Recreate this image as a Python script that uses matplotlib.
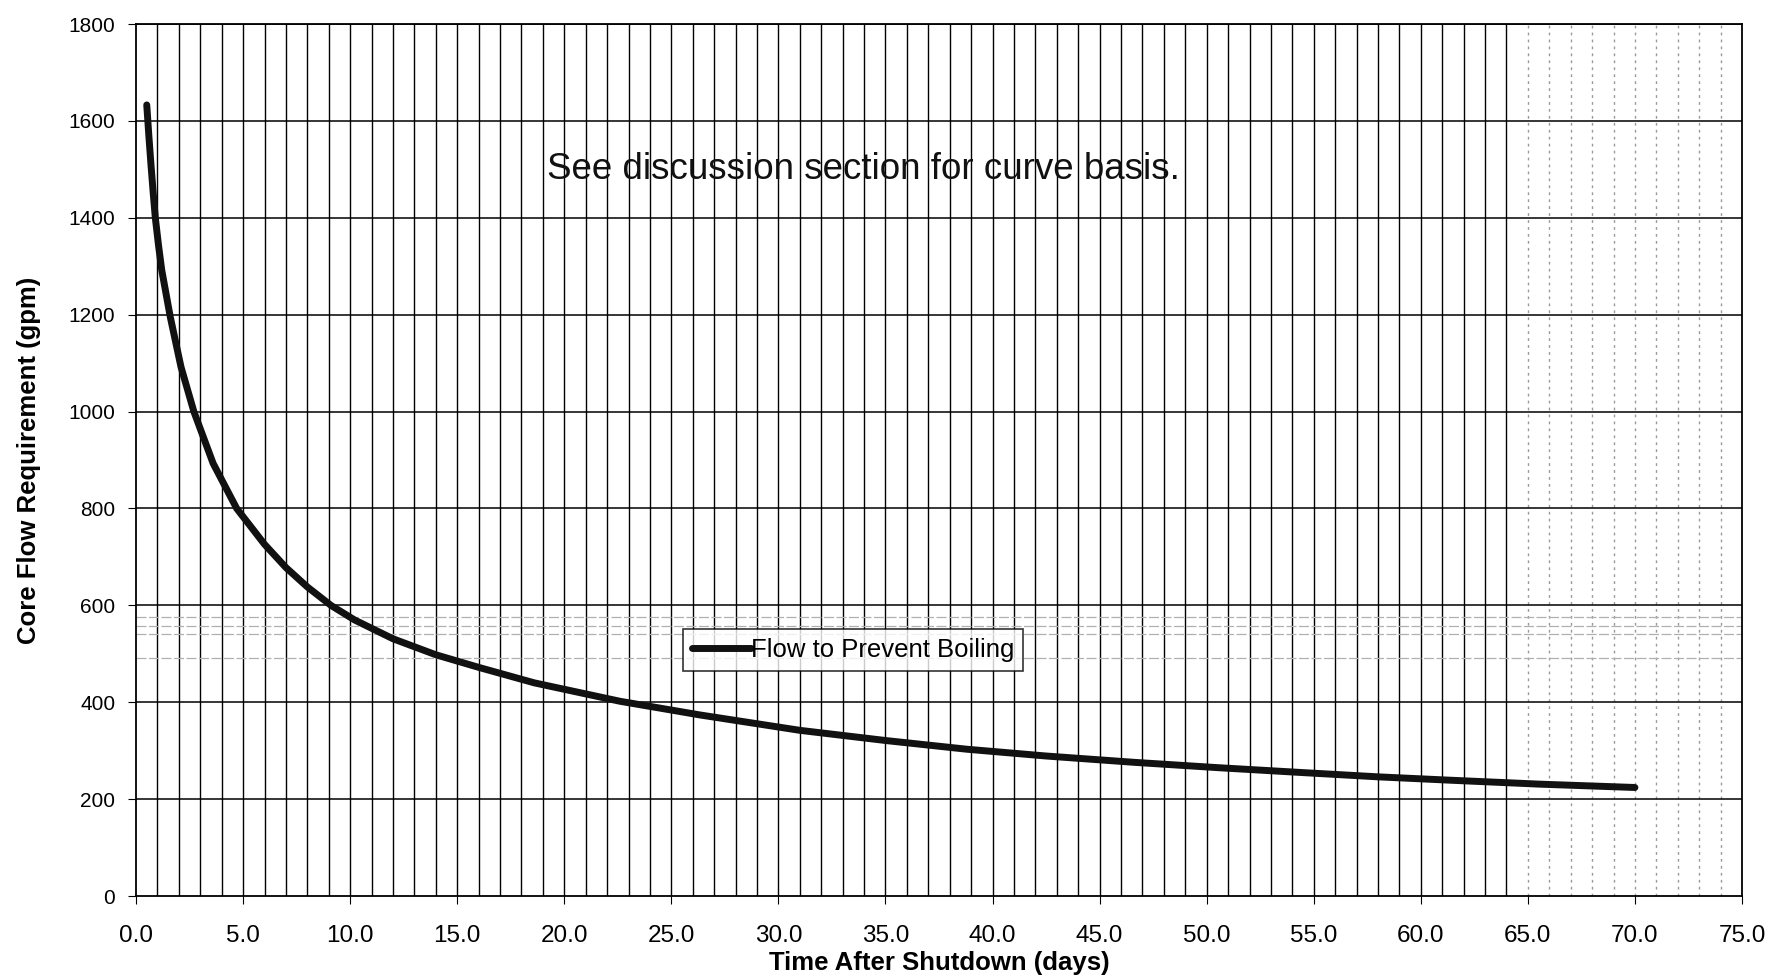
import matplotlib.pyplot as plt
import numpy as np

plt.rcParams['font.family'] = ['Liberation Sans', 'DejaVu Sans']

# days after shutdown vs. required core flow (gpm)
days = [0.5, 0.6, 0.7, 0.8, 0.9, 1.05, 1.2, 1.6, 2.1, 2.7, 3.6, 4.7, 6.0, 7.0,
        8.0, 9.1, 10.2, 12.0, 14.0, 16.0, 18.6, 22.6, 26.3, 31.0, 35.0, 38.8,
        42.5, 46.6, 50.5, 54.4, 58.0, 61.4, 65.5, 70.0]
flow = [1633, 1568, 1508, 1452, 1400, 1343, 1292, 1195, 1092, 1000, 893, 800,
        726, 678, 638, 600, 570, 531, 498, 472, 440, 402, 374, 342, 321, 303,
        289, 276, 265, 255, 246, 239, 231, 224]

x_ticks = np.arange(0, 75.1, 5)
y_ticks = np.arange(0, 1801, 200)

fig = plt.figure(figsize=(17.83, 9.8), dpi=100)
ax = fig.add_axes([0.0763, 0.0857, 0.9007, 0.8898])

# fine vertical grid, one line per day
for d in range(1, 75):
    if d < 65:
        ax.axvline(d, color='black', lw=1.0, zorder=1)
    else:
        ax.axvline(d, color='#999999', lw=1.0, ls=(0, (2, 3)), zorder=1)
for v in y_ticks[1:]:
    ax.axhline(v, color='black', lw=1.1, zorder=1)

# faint copier streaks
for v in [575, 558, 540, 492]:
    ax.axhline(v, color='#b0b0b0', lw=0.9, ls=(0, (8, 2)), zorder=1)

ax.plot(days, flow, color='#111111', lw=5, solid_capstyle='round',
        solid_joinstyle='round', label='Flow to Prevent Boiling', zorder=3)

ax.set_xlim(0, 75)
ax.set_ylim(0, 1800)
ax.set_xticks(x_ticks)
ax.set_xticklabels(['%.1f' % t for t in x_ticks])
ax.set_yticks(y_ticks)
ax.tick_params(axis='x', labelsize=17.5, length=6, pad=15, direction='out')
ax.tick_params(axis='y', labelsize=15, length=6, pad=9, direction='out')
for s in ax.spines.values():
    s.set_linewidth(1.3)

ax.set_xlabel('Time After Shutdown (days)', fontsize=18.5, fontweight='bold')
ax.set_ylabel('Core Flow Requirement (gpm)', fontsize=18.5, fontweight='bold')
ax.xaxis.set_label_coords(0.5, -0.063)
ax.yaxis.set_label_coords(-0.059, 0.5)

ax.text(19.2, 1500, 'See discussion section for curve basis.', fontsize=26.5,
        va='center', ha='left', color='#111111', zorder=4)

leg = ax.legend(loc='center', bbox_to_anchor=(0.4465, 0.282), fontsize=18.5,
                frameon=True, fancybox=False, handlelength=2.3, handletextpad=0.0,
                borderpad=0.35, borderaxespad=0)
leg.get_frame().set_edgecolor('black')
leg.get_frame().set_linewidth(1.2)
leg.set_zorder(5)

fig.savefig('out.png', dpi=100)
